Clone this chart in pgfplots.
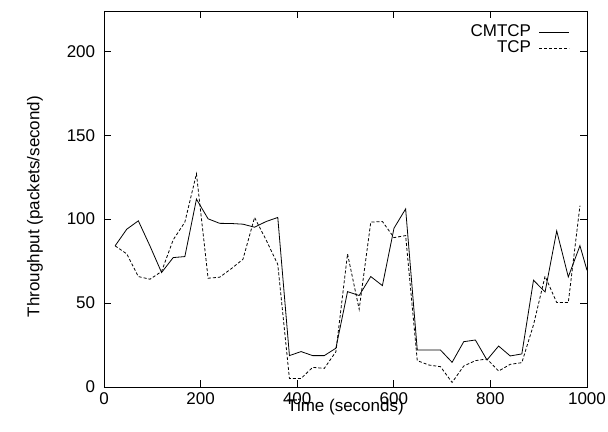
\documentclass[border=0pt]{standalone}
\usepackage{fontspec}
\setmainfont{Liberation Sans}
\usepackage{pgfplots}
\pgfplotsset{compat=1.18}
\begin{document}
\fontsize{17bp}{20bp}\selectfont
\begin{tikzpicture}
\useasboundingbox (-104bp,-45bp) rectangle (504bp,387bp);
\begin{axis}[
  at={(0,0)}, anchor=south west,
  scale only axis, width=483bp, height=376bp,
  xmin=0, xmax=1000, ymin=0, ymax=224,
  xtick={0,200,400,600,800,1000},
  ytick={0,50,100,150,200},
  tick align=inside,
  major tick length=7bp,
  axis line style={line width=0.8bp},
  every tick/.style={line width=0.8bp, black},
  /pgf/number format/assume math mode=true,
  /pgf/number format/1000 sep={},
  yticklabel style={xshift=-3bp},
  xlabel={Time (seconds)},
  ylabel={Throughput (packets/second)},
  xlabel style={at={(axis description cs:0.5,0)}, anchor=north, yshift=-6bp},
  ylabel style={at={(axis description cs:-0.143,0.48)}, anchor=center, rotate=0},
  legend plot pos=right,
  legend cell align=right,
  legend style={at={(rel axis cs:1,1)}, anchor=north east, draw=none, fill=none,
     xshift=-14bp, yshift=-11bp, row sep=0bp, column sep=8bp,
     nodes={inner sep=0bp, text depth=3.5bp, text height=12.5bp}},
  legend image code/.code={\draw[#1] (0bp,0bp) -- (30bp,0bp);},
]
\addplot[black, line width=0.8bp] coordinates {
(23.0,84.1) (47.1,94.0) (71.1,99.0) (95.2,84.0) (119.2,68.2) (143.3,77.1) (167.4,77.7)
(191.4,111.9) (215.5,100.2) (239.5,97.5) (263.6,97.4) (287.7,97.0) (311.7,95.2)
(335.8,98.6) (359.8,101.0) (383.9,18.7) (408.0,21.1) (432.0,18.7) (456.1,18.7)
(480.1,23.1) (504.2,56.8) (528.3,54.5) (552.3,65.8) (576.4,60.4) (600.4,94.6)
(624.5,106.1) (648.6,22.0) (672.6,22.0) (696.7,22.0) (720.7,14.7) (744.8,27.0)
(768.9,28.0) (792.9,16.1) (817.0,24.4) (841.0,18.5) (865.1,19.7) (889.2,63.6)
(913.2,56.6) (937.3,93.0) (961.3,65.6) (985.4,84.2) (1000,69.5)
};
\addlegendentry{CMTCP}
\addplot[black, line width=0.8bp, dash pattern=on 3bp off 2bp] coordinates {
(23.0,84.1) (47.1,79.3) (71.1,65.8) (95.2,64.2) (119.2,68.8) (143.3,87.7) (167.4,98.2)
(191.4,127.0) (215.5,64.8) (239.5,65.4) (263.6,70.5) (287.7,76.1) (311.7,101.0)
(335.8,87.5) (359.8,73.0) (383.9,5.1) (408.0,5.1) (432.0,11.7) (456.1,11.1)
(480.1,21.0) (504.2,79.3) (528.3,46.3) (552.3,98.2) (576.4,98.6) (600.4,89.0)
(624.5,90.2) (648.6,15.7) (672.6,13.1) (696.7,12.1) (720.7,2.7) (744.8,12.5)
(768.9,15.7) (792.9,16.7) (817.0,9.5) (841.0,13.5) (865.1,14.5) (889.2,37.0)
(913.2,66.0) (937.3,50.3) (961.3,50.3) (985.4,108.0)
};
\addlegendentry{TCP}
\end{axis}
\end{tikzpicture}
\end{document}
